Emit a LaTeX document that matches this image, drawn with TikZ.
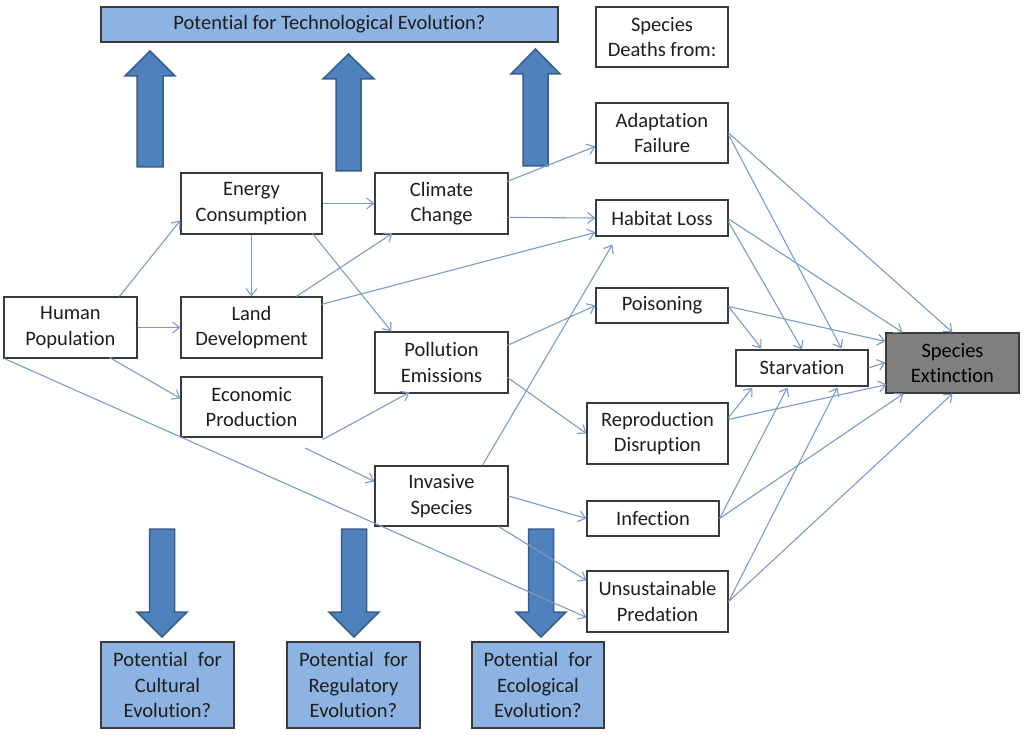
\documentclass[tikz,border=0pt]{standalone}
\usepackage{fontspec}
\setmainfont{Carlito}[Ligatures=NoCommon]
\usetikzlibrary{arrows.meta,calc}
\definecolor{connc}{HTML}{7B9CC4}
\definecolor{boxline}{HTML}{3A3A3A}
\definecolor{textc}{HTML}{1E1E1E}
\definecolor{evofill}{HTML}{8DB3E2}
\definecolor{bigfill}{HTML}{4F81BD}
\definecolor{bigline}{HTML}{385D8A}
\definecolor{extfill}{HTML}{7F7F7F}
\tikzset{
  box/.style={draw=boxline, line width=1.2pt, fill=white, text=textc, align=center, inner sep=0pt},
  evobox/.style={box, fill=evofill},
  extbox/.style={box, fill=extfill, text=black},
  conn/.style={draw=connc, line width=1.1pt, -{Straight Barb[length=7pt,width=11pt,line width=1.1pt]}},
  bigarrow/.style={fill=bigfill, draw=bigline, line width=1.5pt, line join=miter}
}
\begin{document}
\begin{tikzpicture}[x=1pt,y=-1pt,font=\fontsize{20.5}{25.5}\selectfont]
\useasboundingbox (0,0) rectangle (1024,735);
\fill[white] (0,0) rectangle (1024,735);

% big arrows (up)
\draw[bigarrow] (137,167) -- (137,76) -- (125,76) -- (150,51) -- (175,76) -- (163,76) -- (163,167) -- cycle;
\draw[bigarrow] (336,171) -- (336,79) -- (323,79) -- (348.5,54) -- (374,79) -- (361,79) -- (361,171) -- cycle;
\draw[bigarrow] (523,166) -- (523,74) -- (511,74) -- (535.5,49) -- (560,74) -- (548,74) -- (548,166) -- cycle;
% big arrows (down)
\draw[bigarrow] (149.5,529) -- (149.5,612) -- (137,612) -- (162,637) -- (187,612) -- (174.5,612) -- (174.5,529) -- cycle;
\draw[bigarrow] (341.5,529) -- (341.5,612) -- (329,612) -- (354,637) -- (379,612) -- (366.5,612) -- (366.5,529) -- cycle;
\draw[bigarrow] (528.5,529) -- (528.5,612) -- (516,612) -- (541,637) -- (566,612) -- (553.5,612) -- (553.5,529) -- cycle;

% nodes
\node[evobox, minimum width=457pt, minimum height=35pt] (tech) at (329.5,24.5) {Potential for Technological Evolution?};
\node[box, minimum width=132pt, minimum height=60pt] (deaths) at (662,37) {Species\\Deaths from:};
\node[box, minimum width=141pt, minimum height=61pt] (energy) at (251.5,203.5) {Energy\\Consumption};
\node[box, minimum width=133pt, minimum height=61pt] (climate) at (441.5,203.5) {Climate\\Change};
\node[box, minimum width=132pt, minimum height=60pt] (adapt) at (662,133) {Adaptation\\Failure};
\node[box, minimum width=132pt, minimum height=36pt] (habitat) at (662,218) {Habitat Loss};
\node[box, minimum width=133pt, minimum height=61pt] (human) at (70.5,327.5) {Human\\Population};
\node[box, minimum width=141pt, minimum height=61pt] (land) at (251.5,327.5) {Land\\Development};
\node[box, minimum width=133pt, minimum height=61pt] (pollution) at (441.5,362.5) {Pollution\\Emissions};
\node[box, minimum width=141pt, minimum height=60pt] (econ) at (251.5,407) {Economic\\Production};
\node[box, minimum width=132pt, minimum height=35pt] (poison) at (662,305.5) {Poisoning};
\node[box, minimum width=132pt, minimum height=36pt] (starv) at (802,368) {Starvation};
\node[extbox, minimum width=133pt, minimum height=60pt] (ext) at (952.5,363) {Species\\Extinction};
\node[box, minimum width=141pt, minimum height=61pt] (repro) at (657.5,433.5) {Reproduction\\Disruption};
\node[box, minimum width=133pt, minimum height=60pt] (invasive) at (441.5,496) {Invasive\\Species};
\node[box, minimum width=132pt, minimum height=35pt] (infection) at (653,518.5) {Infection};
\node[box, minimum width=141pt, minimum height=61pt] (predation) at (657.5,601.5) {Unsustainable\\Predation};
\node[evobox, minimum width=133pt, minimum height=86pt] (cultural) at (167.5,685) {Potential\enspace for\\Cultural\\Evolution?};
\node[evobox, minimum width=133pt, minimum height=86pt] (regulatory) at (353.5,685) {Potential\enspace for\\Regulatory\\Evolution?};
\node[evobox, minimum width=132pt, minimum height=86pt] (ecological) at (538,685) {Potential\enspace for\\Ecological\\Evolution?};

% connectors
\draw[conn] ($(human.north west)+(116,0)$) -- ($(energy.north west)+(0,48)$);
\draw[conn] (human.east) -- (land.west);
\draw[conn] ($(human.north west)+(106,61)$) -- ($(econ.north west)+(0,22)$);
\draw[conn] ($(human.south west)+(1,0)$) -- ($(predation.north west)+(0,47)$);
\draw[conn] (energy.south) -- (land.north);
\draw[conn] (energy.east) -- (climate.west);
\draw[conn] ($(energy.north west)+(132,61)$) -- ($(pollution.north west)+(17,0)$);
\draw[conn] ($(land.north west)+(116,0)$) -- ($(climate.north west)+(18,61)$);
\draw[conn] ($(land.north west)+(141,8)$) -- ($(habitat.north west)+(0,33)$);
\draw[conn] ($(climate.north west)+(133,9)$) -- ($(adapt.north west)+(0,44)$);
\draw[conn] ($(climate.north west)+(133,45)$) -- (habitat.west);
\draw[conn] ($(econ.south east)+(0,2)$) -- ($(pollution.north west)+(35,61)$);
\coordinate (econout) at (305,448);
\draw[conn] (econout) -- ($(invasive.north west)+(0,16)$);
\draw[conn] ($(pollution.north west)+(133,14)$) -- (poison.west);
\draw[conn] ($(pollution.north west)+(133,46)$) -- (repro.west);
\draw[conn] ($(invasive.north west)+(108,0)$) -- ($(habitat.south west)+(17,8)$);
\draw[conn] (invasive.east) -- (infection.west);
\draw[conn] ($(invasive.south east)+(-10,0)$) -- ($(predation.north west)+(0,10)$);
\draw[conn] (adapt.east) -- (ext.north);
\draw[conn] ($(adapt.east)+(0,2)$) -- ($(starv.north west)+(106,-1)$);
\draw[conn] ($(habitat.east)+(0,4)$) -- (starv.north);
\draw[conn] ($(habitat.east)+(0,1)$) -- ($(ext.north west)+(17,0)$);
\draw[conn] ($(poison.east)+(0,1)$) -- ($(starv.north west)+(26,-1)$);
\draw[conn] ($(poison.east)+(0,1)$) -- ($(ext.north west)+(0,9)$);
\draw[conn] (starv.east) -- ($(ext.north west)+(0,30)$);
\draw[conn] ($(repro.north east)+(0,15)$) -- ($(starv.south west)+(17,1)$);
\draw[conn] ($(repro.north east)+(0,17)$) -- ($(ext.south west)+(1,-9)$);
\draw[conn] (infection.east) -- ($(starv.south west)+(52,1)$);
\draw[conn] (infection.east) -- ($(ext.south west)+(18,0)$);
\draw[conn] (predation.east) -- ($(starv.south west)+(102,1)$);
\draw[conn] (predation.east) -- (ext.south);
\end{tikzpicture}
\end{document}
